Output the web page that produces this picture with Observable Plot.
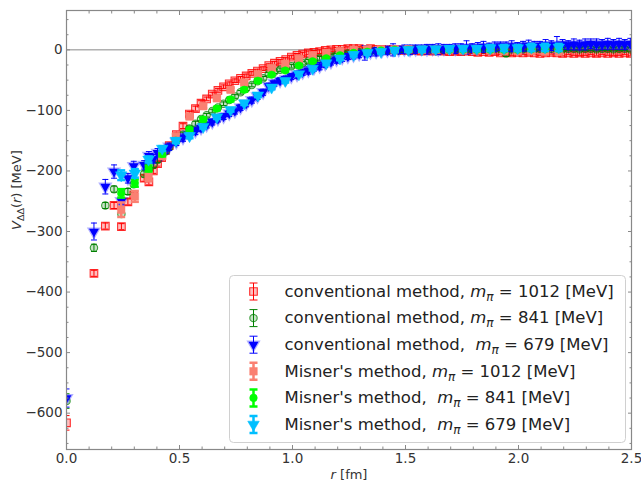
<!DOCTYPE html>
<html><head><meta charset="utf-8">
<script src="https://cdn.jsdelivr.net/npm/d3@7"></script>
<script src="https://cdn.jsdelivr.net/npm/@observablehq/plot@0.6"></script>
<style>
html,body{margin:0;padding:0;background:#fff;}
svg text{white-space:pre;}
</style></head><body><div id="chart"></div>
<script>
// ---- data ----
const rConv = [
 0, 0.1215, 0.1718, 0.2104, 0.243, 0.2717, 0.2976, 0.3437, 0.3645, 0.3842,
 0.403, 0.4209, 0.4381, 0.4546, 0.486, 0.5155, 0.5436, 0.5705, 0.5953, 0.62,
 0.645, 0.67, 0.695, 0.72, 0.745, 0.77, 0.795, 0.82, 0.845, 0.87,
 0.895, 0.92, 0.945, 0.97, 0.995, 1.02, 1.045, 1.07, 1.095, 1.12,
 1.145, 1.17, 1.195, 1.22, 1.245, 1.27, 1.295, 1.32, 1.345, 1.37,
 1.395, 1.42, 1.445, 1.47, 1.495, 1.52, 1.545, 1.57, 1.595, 1.62,
 1.645, 1.67, 1.695, 1.72, 1.745, 1.77, 1.795, 1.82, 1.845, 1.87,
 1.895, 1.92, 1.945, 1.97, 1.995, 2.02, 2.045, 2.07, 2.095, 2.12,
 2.145, 2.17, 2.195, 2.22, 2.245, 2.27, 2.295, 2.32, 2.345, 2.37,
 2.395, 2.42, 2.445, 2.47, 2.495];
const vConv1012 = [
 -616, -369, -291, -257, -292, -251, -240, -212, -218, -200,
 -188, -178, -166, -158, -140, -126, -106, -97, -88, -81,
 -73, -67, -61, -56, -51, -47, -43, -39, -35, -31,
 -26, -22, -19, -16, -12, -9, -7, -5, -4, -3,
 -1, 0, 1, 1, 2, 2, 2, 1, 2, 1,
 1, 0, 1, 0, -1, 0, -1, -2, -1, -2,
 -1, -2, -3, -2, -3, -2, -3, -4, -3, -4,
 -3, -5, -4, -5, -4, -5, -4, -5, -6, -5,
 -4, -5, -6, -5, -6, -5, -6, -5, -6, -5,
 -6, -5, -6, -5, -6];
const eConv1012 = [
 12, 5, 5, 5, 5, 5, 5, 5, 5, 4,
 4, 4, 4, 4, 4, 4, 4, 4, 4, 3,
 3, 3, 3, 3, 3, 3, 3, 3, 3, 3,
 3, 3, 3, 3, 3, 3, 3, 3, 3, 3,
 3, 3, 3, 3, 3, 3, 3, 3, 3, 3,
 3, 3, 4, 3, 3, 4, 3, 3, 4, 3,
 3, 4, 3, 3, 4, 3, 3, 4, 3, 3,
 4, 3, 3, 4, 3, 3, 4, 3, 3, 4,
 3, 3, 4, 3, 3, 4, 3, 3, 4, 3,
 3, 4, 3, 3, 4];
const vConv841 = [
 -580, -327, -257, -230, -271, -234, -222, -205, -198, -190,
 -182, -175, -168, -161, -150, -140, -130, -122, -114, -108,
 -101, -95, -89, -83, -77, -70, -64, -58, -52, -47,
 -40, -36, -33, -30, -27, -24, -22, -19, -16, -14,
 -13, -11, -9, -7, -6, -5, -4, -3, -2, -2,
 -1, -1, 0, -1, 0, 0, 1, 0, 1, 0,
 1, 0, 1, 1, 0, 1, 1, 0, 1, 1,
 2, 1, -6, 1, 2, 1, 2, 1, 2, 1,
 2, 2, 1, 2, 2, 1, 2, 2, 1, 2,
 2, 1, 2, 2, 1];
const eConv841 = [
 12, 6, 5, 5, 5, 5, 5, 5, 4, 4,
 4, 4, 4, 4, 4, 4, 4, 4, 3, 3,
 3, 3, 3, 3, 3, 3, 3, 3, 3, 3,
 3, 3, 3, 3, 3, 3, 3, 3, 3, 3,
 3, 3, 3, 3, 3, 3, 3, 3, 3, 3,
 3, 3, 3, 3, 3, 3, 3, 3, 3, 3,
 3, 3, 3, 3, 3, 3, 3, 3, 3, 3,
 3, 3, 5, 3, 3, 3, 3, 3, 3, 3,
 3, 3, 3, 3, 3, 3, 3, 3, 3, 3,
 3, 3, 3, 3, 3];
const vConv679 = [
 -575, -300, -226, -201, -250, -212, -192, -190, -175, -180,
 -170, -173, -165, -160, -152, -145, -140, -134, -129, -124,
 -119, -114, -110, -105, -101, -95, -89, -83, -77, -70,
 -60, -55, -51, -48, -44, -41, -37, -34, -30, -27,
 -23, -20, -16, -13, -11, -9, -7, -5, -4, -3,
 -2, -1, 0, 0, 1, 0, 1, 2, 1, 2,
 1, 2, 3, 2, 3, 4, 3, 4, 5, 4,
 5, 6, 5, 6, 5, 6, 7, 6, 7, 8,
 7, 8, 9, 8, 9, 8, 9, 10, 9, 9,
 10, 9, 10, 9, 10];
const eConv679 = [
 15, 14, 12, 11, 6, 8, 8, 7, 7, 7,
 7, 6, 6, 6, 6, 6, 6, 6, 6, 5,
 5, 5, 5, 5, 5, 5, 5, 5, 5, 5,
 5, 5, 5, 5, 5, 6, 5, 6, 5, 6,
 6, 5, 6, 6, 5, 6, 6, 12, 6, 7,
 6, 7, 10, 6, 7, 8, 7, 6, 8, 7,
 9, 7, 6, 8, 7, 11, 7, 8, 9, 7,
 8, 7, 8, 9, 7, 8, 9, 8, 7, 9,
 8, 14, 8, 7, 9, 8, 9, 8, 9, 8,
 9, 8, 9, 8, 9];
const rMisner = [
 0.242, 0.3025, 0.363, 0.4235, 0.484, 0.5445, 0.605, 0.6655, 0.726, 0.7865,
 0.847, 0.9075, 0.968, 1.0285, 1.089, 1.1495, 1.21, 1.2705, 1.331, 1.3915,
 1.452, 1.5125, 1.573, 1.6335, 1.694, 1.7545, 1.815, 1.8755, 1.936, 1.9965,
 2.057, 2.1175, 2.178];
const vMis1012 = [-264, -242, -210, -175, -143, -110, -93, -80, -66, -54, -40, -30, -23, -15, -9, -5, -2, 0, 1, 1, 1, 1, 0, 0, 0, -1, -1, -1, -2, -2, -2, -3, -3];
const eMis1012 = [12, 9, 7, 5, 4, 4, 3, 3, 3, 3, 3, 3, 3, 3, 3, 3, 3, 3, 3, 3, 3, 3, 3, 3, 3, 3, 3, 3, 3, 3, 3, 3, 3];
const vMis841 = [-237, -220, -196, -172, -150, -132, -115, -97, -82, -66, -51, -41, -34, -26, -19, -14, -9, -5, -3, -1, 0, 0, 0, 0, 0, 0, 0, 0, 0, 0, 1, 1, 1];
const eMis841 = [7, 6, 5, 4, 3, 3, 3, 3, 3, 3, 3, 2, 2, 2, 2, 2, 2, 2, 2, 2, 2, 2, 2, 2, 2, 2, 2, 2, 2, 2, 2, 2, 2];
const vMis679 = [-207, -204, -181, -163, -150, -142, -127, -111, -99, -88, -75, -62, -51, -40, -31, -22, -14, -8, -5, -3, -1, 0, 1, 1, 2, 2, 2, 3, 3, 3, 4, 4, 4];
const eMis679 = [8, 7, 5, 4, 4, 4, 3, 3, 3, 3, 3, 3, 3, 3, 3, 3, 3, 3, 3, 3, 3, 3, 4, 4, 4, 4, 4, 5, 5, 5, 6, 6, 6];

const legendLabels = [
 "conventional method, m_π = 1012 [MeV]",
 "conventional method, m_π = 841 [MeV]",
 "conventional method,  m_π = 679 [MeV]",
 "Misner's method, m_π = 1012 [MeV]",
 "Misner's method,  m_π = 841 [MeV]",
 "Misner's method,  m_π = 679 [MeV]"];
const xMajor = [0, 0.5, 1, 1.5, 2, 2.5];
const xMinor = [0.1,0.2,0.3,0.4,0.6,0.7,0.8,0.9,1.1,1.2,1.3,1.4,1.6,1.7,1.8,1.9,2.1,2.2,2.3,2.4];
const yMajor = [0, -100, -200, -300, -400, -500, -600];
const yMinor = [50,25,-25,-50,-75,-125,-150,-175,-225,-250,-275,-325,-350,-375,-425,-450,-475,-525,-550,-575,-625,-650];
const xLabel = "r [fm]";
const yLabel = "V_ΔΔ(r) [MeV]";

// ---- build ----
const rows = (r, v, e) => r.map((x, i) => ({r: x, v: v[i], e: e[i]}));
const hline = {draw(ctx, size) { const w = Math.sqrt(size / Math.PI); ctx.moveTo(-w, 0); ctx.lineTo(w, 0); }};
const ebar = {draw(ctx, size) { const h = Math.sqrt(size / Math.PI), c = 4; ctx.moveTo(0, -h); ctx.lineTo(0, h); ctx.moveTo(-c, -h); ctx.lineTo(c, -h); ctx.moveTo(-c, h); ctx.lineTo(c, h); }};

const series = [
 {data: rows(rConv, vConv1012, eConv1012), color: "#ff0000", symbol: "square", r: 4.3, rotate: 0, fill: "#ff0000", fillOpacity: 0.25, strokeOpacity: 0.8, sw: 1.1, bw: 1, cap: 3},
 {data: rows(rConv, vConv841, eConv841), color: "#008000", symbol: "circle", r: 3.7, rotate: 0, fill: "#008000", fillOpacity: 0.22, strokeOpacity: 0.75, sw: 1.1, bw: 1, cap: 3},
 {data: rows(rConv, vConv679, eConv679), color: "#0000ff", symbol: "triangle", r: 3.7, rotate: 180, fill: "#0000ff", fillOpacity: 1, strokeOpacity: 0.3, sw: 2.5, bw: 1, cap: 3},
 {data: rows(rMisner, vMis1012, eMis1012), color: "#fa8072", symbol: "square", r: 4.3, rotate: 0, fill: "#fa8072", fillOpacity: 1, strokeOpacity: 1, sw: 0.5, bw: 2.5, cap: 4},
 {data: rows(rMisner, vMis841, eMis841), color: "#00ff00", symbol: "circle", r: 3.8, rotate: 0, fill: "#00ff00", fillOpacity: 1, strokeOpacity: 1, sw: 0.5, bw: 2.5, cap: 4},
 {data: rows(rMisner, vMis679, eMis679), color: "#00bfff", symbol: "triangle", r: 4.3, rotate: 180, fill: "#00bfff", fillOpacity: 1, strokeOpacity: 1, sw: 0.5, bw: 2.5, cap: 4}
];

const marks = [Plot.ruleY([0], {stroke: "#888", strokeWidth: 1})];
for (const s of series) {
  marks.push(
    Plot.ruleX(s.data, {x: "r", y1: d => d.v - d.e, y2: d => d.v + d.e, stroke: s.color, strokeWidth: s.bw, clip: true}),
    Plot.dot(s.data, {x: "r", y: d => d.v + d.e, symbol: hline, r: s.cap, stroke: s.color, strokeWidth: s.bw, fill: "none", clip: true}),
    Plot.dot(s.data, {x: "r", y: d => d.v - d.e, symbol: hline, r: s.cap, stroke: s.color, strokeWidth: s.bw, fill: "none", clip: true}),
    Plot.dot(s.data, {x: "r", y: "v", symbol: s.symbol, r: s.r, rotate: s.rotate, fill: s.fill, fillOpacity: s.fillOpacity, stroke: s.color, strokeOpacity: s.strokeOpacity, strokeWidth: s.sw, clip: true})
  );
}
// ticks (inward, all four sides)
const tk = {fill: "none", label: null, stroke: "#888"};
marks.push(
  Plot.axisX({...tk, anchor: "bottom", ticks: xMajor, tickSize: -4}),
  Plot.axisX({...tk, anchor: "bottom", ticks: xMinor, tickSize: -2.5}),
  Plot.axisX({...tk, anchor: "top", ticks: xMajor, tickSize: -4}),
  Plot.axisX({...tk, anchor: "top", ticks: xMinor, tickSize: -2.5}),
  Plot.axisY({...tk, anchor: "left", ticks: yMajor, tickSize: -4}),
  Plot.axisY({...tk, anchor: "left", ticks: yMinor, tickSize: -2.5}),
  Plot.axisY({...tk, anchor: "right", ticks: yMajor, tickSize: -4}),
  Plot.axisY({...tk, anchor: "right", ticks: yMinor, tickSize: -2.5}),
  Plot.axisX({anchor: "bottom", ticks: xMajor, tickSize: 0, tickPadding: 4, tickFormat: d3.format(".1f"), label: null, fontSize: 13.5, fill: "#333"}),
  Plot.axisY({anchor: "left", ticks: yMajor, tickSize: 0, tickPadding: 4, tickFormat: d3.format("d"), label: null, fontSize: 13.5, fill: "#333"}),
  Plot.frame({stroke: "#888", strokeWidth: 1.2}),
  Plot.text([xLabel], {frameAnchor: "bottom", dy: 25, text: d => d, lineAnchor: "middle", fontSize: 13, fill: "#333"}),
  Plot.text([yLabel], {frameAnchor: "left", dx: -50, rotate: -90, text: d => d, lineAnchor: "middle", fontSize: 13, fill: "#333"})
);
// legend
marks.push(Plot.frame({insetLeft: 163, insetTop: 265, insetRight: 6, insetBottom: 7, rx: 4, fill: "white", fillOpacity: 0.85, stroke: "#d0d0d0", strokeWidth: 1}));
series.forEach((s, i) => {
  const dy = 281 + 26.6 * i;
  marks.push(
    Plot.dot([0], {frameAnchor: "top-left", dx: 187, dy, symbol: ebar, r: 8.5, stroke: s.color, strokeWidth: s.bw, fill: "none"}),
    Plot.dot([0], {frameAnchor: "top-left", dx: 187, dy, symbol: s.symbol, r: s.r, rotate: s.rotate, fill: s.fill, fillOpacity: s.fillOpacity, stroke: s.color, strokeOpacity: s.strokeOpacity, strokeWidth: s.sw}),
    Plot.text([legendLabels[i]], {frameAnchor: "top-left", dx: 218, dy, text: d => d, textAnchor: "start", lineAnchor: "middle", fontSize: 16.5, fill: "#222"})
  );
});

const svg = Plot.plot({
  width: 641, height: 483,
  marginLeft: 66, marginRight: 10, marginTop: 10, marginBottom: 34,
  x: {domain: [0, 2.5]},
  y: {domain: [-660, 65]},
  style: {fontFamily: "DejaVu Sans", background: "white", overflow: "visible"},
  marks
});

// rich text (italic / subscripts)
const NS = "http://www.w3.org/2000/svg";
function rich(t, parts) {
  t.textContent = "";
  for (const p of parts) {
    const s = document.createElementNS(NS, "tspan");
    s.textContent = p.t;
    if (p.i) s.setAttribute("font-style", "italic");
    if (p.dy) s.setAttribute("dy", p.dy);
    if (p.fs) s.setAttribute("font-size", p.fs);
    t.appendChild(s);
  }
}
svg.querySelectorAll("text").forEach(t => {
  const s = t.textContent;
  if (s.includes("m_π")) {
    const [a, b] = s.split("m_π");
    rich(t, [{t: a}, {t: "m", i: true}, {t: "π", i: true, dy: "4", fs: "12px"}, {t: b, dy: "-4"}]);
  } else if (s === yLabel) {
    rich(t, [{t: "V", i: true}, {t: "ΔΔ", dy: "3", fs: "9.5px"}, {t: "(", dy: "-3"}, {t: "r", i: true}, {t: ") [MeV]"}]);
  } else if (s === xLabel) {
    rich(t, [{t: "r", i: true}, {t: " [fm]"}]);
  }
});
document.getElementById("chart").append(svg);
</script></body></html>
